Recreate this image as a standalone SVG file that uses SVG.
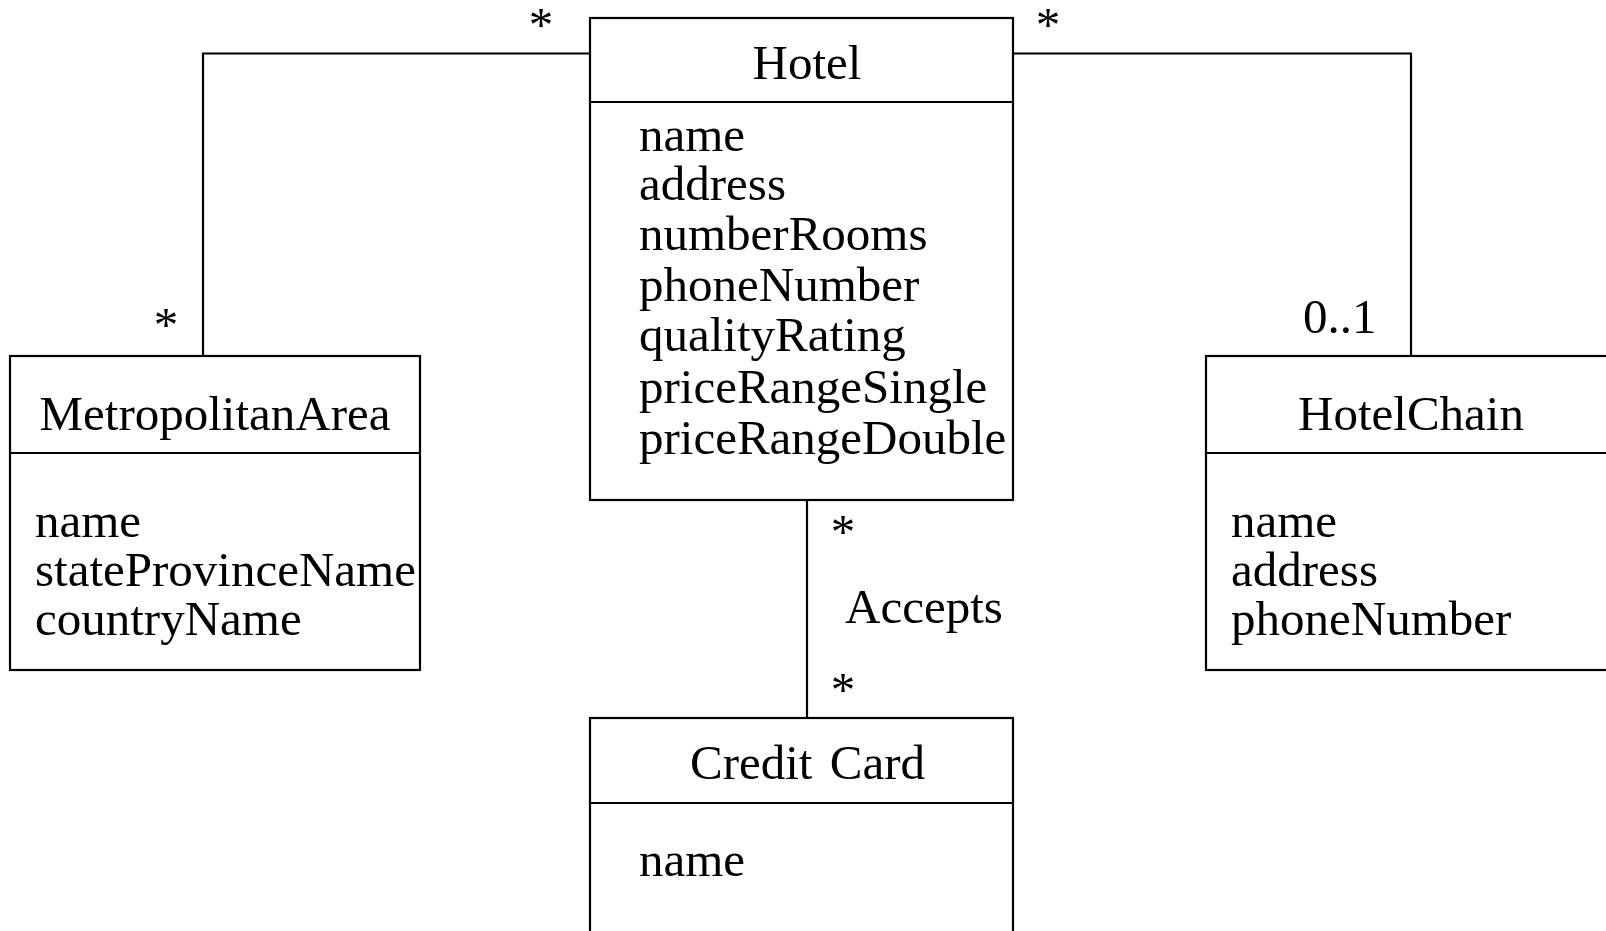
<svg xmlns="http://www.w3.org/2000/svg" width="1606" height="931" viewBox="0 0 1606 931">
<style>
.box{fill:#fff;stroke:#000;stroke-width:2.2}
.ln{fill:none;stroke:#000;stroke-width:2.2}
text{font-family:"Liberation Serif","Times New Roman",serif;font-size:49px;fill:#000}
.c{text-anchor:middle}
.star{text-anchor:middle}
</style>
<rect width="1606" height="931" fill="#fff"/>
<g id="connectors">
<polyline class="ln" points="590,53.5 203,53.5 203,356"/>
<polyline class="ln" points="1013,53.5 1411,53.5 1411,356"/>
<line class="ln" x1="807" y1="500" x2="807" y2="718"/>
<text class="star" x="541" y="41">*</text>
<text class="star" x="166" y="341">*</text>
<text class="star" x="1048" y="41">*</text>
<text x="1303" y="333">0..1</text>
<text class="star" x="843" y="548">*</text>
<text x="845" y="623">Accepts</text>
<text class="star" x="843" y="706">*</text>
</g>
<g id="hotel">
<rect class="box" x="590" y="18" width="423" height="482"/>
<line class="ln" x1="590" y1="102" x2="1013" y2="102"/>
<text class="c" x="807" y="79">Hotel</text>
<text x="639" y="151"><tspan x="639" y="151">name</tspan><tspan x="639" y="200">address</tspan><tspan x="639" y="250">numberRooms</tspan><tspan x="639" y="301">phoneNumber</tspan><tspan x="639" y="351">qualityRating</tspan><tspan x="639" y="403">priceRangeSingle</tspan><tspan x="639" y="454">priceRangeDouble</tspan></text>
</g>
<g id="metropolitanArea">
<rect class="box" x="10" y="356" width="410" height="314"/>
<line class="ln" x1="10" y1="453" x2="420" y2="453"/>
<text class="c" x="215" y="430">MetropolitanArea</text>
<text x="35" y="537"><tspan x="35" y="537">name</tspan><tspan x="35" y="586">stateProvinceName</tspan><tspan x="35" y="635">countryName</tspan></text>
</g>
<g id="hotelChain">
<rect class="box" x="1206" y="356" width="410" height="314"/>
<line class="ln" x1="1206" y1="453" x2="1616" y2="453"/>
<text class="c" x="1411" y="430">HotelChain</text>
<text x="1231" y="537"><tspan x="1231" y="537">name</tspan><tspan x="1231" y="586">address</tspan><tspan x="1231" y="635">phoneNumber</tspan></text>
</g>
<g id="creditCard">
<rect class="box" x="590" y="718" width="423" height="240"/>
<line class="ln" x1="590" y1="803" x2="1013" y2="803"/>
<text class="c" x="807.5" y="779" word-spacing="5">Credit Card</text>
<text x="639" y="876">name</text>
</g>
</svg>
